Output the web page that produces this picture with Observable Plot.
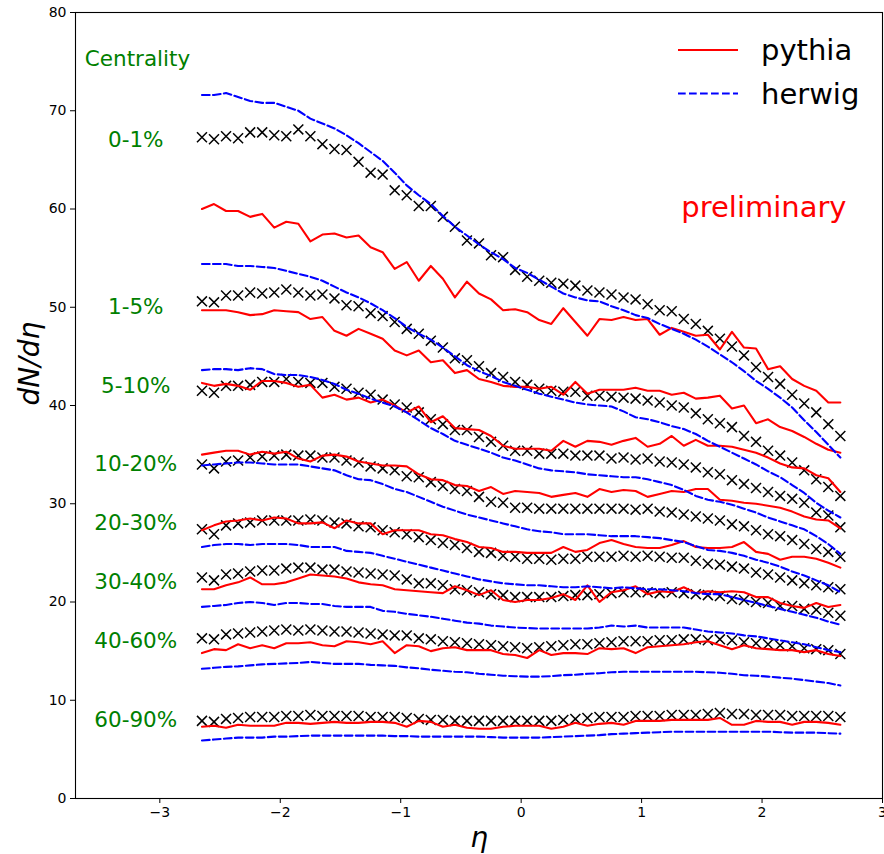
<!DOCTYPE html>
<html>
<head>
<meta charset="utf-8">
<script src="https://cdn.jsdelivr.net/npm/d3@7"></script>
<script src="https://cdn.jsdelivr.net/npm/@observablehq/plot@0.6"></script>
<style>
  body { margin: 0; background: white; }
  #chart { width: 884px; height: 854px; }
</style>
</head>
<body>
<div id="chart"></div>
<script>
const eta = [-2.65,-2.55,-2.45,-2.35,-2.25,-2.15,-2.05,-1.95,-1.85,-1.75,-1.65,-1.55,-1.45,-1.35,-1.25,-1.15,-1.05,-0.95,-0.85,-0.75,-0.65,-0.55,-0.45,-0.35,-0.25,-0.15,-0.05,0.05,0.15,0.25,0.35,0.45,0.55,0.65,0.75,0.85,0.95,1.05,1.15,1.25,1.35,1.45,1.55,1.65,1.75,1.85,1.95,2.05,2.15,2.25,2.35,2.45,2.55,2.65];

const centralities = ["0-1%","1-5%","5-10%","10-20%","20-30%","30-40%","40-60%","60-90%"];
const labelLevels = [67, 50, 42, 34, 28, 22, 16, 8];
const xTicks = [-3,-2,-1,0,1,2,3];
const yTicks = [0,10,20,30,40,50,60,70,80];
const legendNames = ["pythia","herwig"];

// measured (x markers)
const data01 = [67.3,67.1,67.4,67.2,67.8,67.8,67.5,67.4,68.1,67.4,66.6,66.1,66.0,64.8,63.7,63.5,61.9,61.4,60.3,60.3,59.2,58.2,56.8,56.5,55.3,55.1,53.8,53.1,52.7,52.5,52.4,52.2,51.7,51.5,51.3,51.0,50.8,50.3,49.7,49.6,48.8,48.3,47.6,46.8,46.0,45.1,43.9,42.9,42.2,41.1,40.2,39.3,38.1,36.9];
const data15 = [50.6,50.5,51.2,51.2,51.5,51.4,51.5,51.8,51.5,51.2,51.3,50.9,50.2,50.1,49.4,49.1,48.5,47.8,47.3,46.6,45.9,44.8,44.6,44.0,43.3,42.9,42.4,42.1,41.7,41.5,41.4,41.4,41.0,41.0,40.9,40.8,40.7,40.5,40.3,40.0,39.8,39.2,38.6,38.2,37.8,36.9,36.3,35.4,34.9,34.2,33.4,32.5,31.7,30.8];
const data510 = [41.5,41.3,42.0,42.0,42.1,42.4,42.4,42.7,42.4,42.3,42.3,41.9,41.7,41.3,41.1,40.6,40.1,39.8,39.3,38.6,38.1,37.5,37.5,36.8,36.3,35.9,35.4,35.4,35.1,35.1,35.1,34.9,34.9,34.9,34.6,34.7,34.5,34.6,34.3,34.2,34.0,33.7,33.2,33.0,32.4,32.0,31.6,31.2,30.8,30.5,30.1,29.1,28.8,27.6];
const data1020 = [34.0,33.6,34.3,34.4,34.7,34.8,34.9,35.0,34.9,34.9,34.7,34.7,34.4,34.2,33.8,33.6,33.4,32.8,32.7,32.2,31.8,31.5,31.3,30.7,30.2,30.1,29.6,29.6,29.5,29.5,29.5,29.5,29.5,29.5,29.5,29.5,29.4,29.5,29.2,29.1,28.9,28.7,28.5,28.3,27.9,27.7,27.3,26.9,26.7,26.3,25.9,25.4,25.1,24.6];
const data2030 = [27.4,26.9,27.8,28.0,28.1,28.3,28.3,28.3,28.3,28.4,28.3,28.1,28.0,27.7,27.6,27.3,27.1,26.9,26.6,26.3,26.0,25.8,25.5,25.1,25.0,24.7,24.6,24.4,24.4,24.3,24.4,24.4,24.6,24.6,24.6,24.7,24.6,24.7,24.6,24.5,24.5,24.2,23.9,23.8,23.6,23.4,23.0,22.8,22.5,22.2,21.9,21.7,21.5,21.3];
const data3040 = [22.5,22.2,22.8,22.9,23.1,23.2,23.2,23.4,23.5,23.5,23.3,23.3,23.1,23.0,22.9,22.8,22.7,22.3,21.9,21.9,21.7,21.3,21.2,21.0,20.8,20.7,20.5,20.5,20.5,20.5,20.6,20.7,20.7,20.8,20.9,21.0,21.0,21.0,20.9,21.0,20.9,20.8,20.7,20.6,20.3,20.2,20.0,19.9,19.6,19.6,19.3,19.2,18.9,18.6];
const data4060 = [16.3,16.2,16.7,16.8,16.9,17.0,17.1,17.2,17.1,17.2,17.1,17.0,17.0,16.9,16.8,16.7,16.6,16.6,16.3,16.2,16.0,15.9,15.8,15.7,15.6,15.5,15.4,15.3,15.4,15.5,15.6,15.7,15.7,15.8,15.9,16.0,16.0,16.0,16.1,16.1,16.2,16.2,16.1,16.2,16.1,15.9,15.8,15.7,15.6,15.5,15.3,15.2,15.1,14.7];
const data6090 = [7.9,7.8,8.1,8.2,8.3,8.3,8.3,8.4,8.4,8.5,8.4,8.4,8.4,8.4,8.3,8.3,8.3,8.2,8.1,8.0,8.0,7.9,7.9,7.9,7.9,7.9,7.9,7.9,7.9,7.9,8.0,8.1,8.2,8.3,8.3,8.3,8.4,8.4,8.4,8.5,8.5,8.5,8.6,8.7,8.6,8.6,8.5,8.5,8.5,8.4,8.4,8.4,8.4,8.3];

// pythia (red solid)
const pythia01 = [60.0,60.5,59.8,59.8,59.2,59.5,58.1,58.7,58.5,56.7,57.4,57.5,57.1,57.3,56.1,55.6,53.9,54.6,52.7,54.2,52.9,51.0,52.6,51.4,50.8,49.7,49.8,49.5,48.7,48.3,49.9,48.5,47.1,48.8,48.7,49.0,48.7,48.8,47.2,47.9,47.5,47.1,47.2,45.7,47.5,45.9,45.8,43.7,44.0,42.7,42.0,41.5,40.3,40.3];
const pythia15 = [49.7,49.7,49.7,49.5,49.2,49.3,49.7,49.6,49.5,48.8,49.0,47.6,47.1,47.8,47.3,46.8,45.6,45.1,45.6,44.4,44.6,43.3,43.6,42.7,42.4,42.0,41.9,41.9,41.7,41.9,41.1,42.4,41.2,41.6,41.6,41.6,41.8,41.5,41.5,41.1,41.3,40.7,40.8,41.0,39.7,40.0,38.2,38.6,37.8,37.4,36.8,36.1,35.5,35.2];
const pythia510 = [42.3,42.0,42.2,42.0,41.6,42.5,42.5,42.3,41.9,42.1,40.8,41.1,40.6,40.8,40.3,40.6,40.0,39.3,39.9,38.3,38.9,37.7,37.6,37.5,36.9,35.9,35.6,35.6,35.6,35.4,36.4,35.8,36.4,36.3,36.0,36.4,36.7,35.8,36.1,36.9,35.9,36.5,35.9,35.9,35.8,35.5,35.2,34.7,34.1,33.7,33.6,32.9,32.6,31.2];
const pythia1020 = [35.0,35.2,35.4,35.4,35.0,35.3,35.1,35.3,34.6,34.3,34.9,35.0,34.8,34.3,34.1,33.9,33.9,33.8,33.0,32.5,32.4,31.9,31.8,31.3,31.7,31.0,31.3,31.2,31.1,30.7,30.9,31.1,30.7,31.5,31.2,31.4,31.3,30.7,31.0,31.3,31.2,31.5,31.5,30.4,30.3,30.1,30.0,29.8,29.6,29.2,28.7,28.4,28.3,27.5];
const pythia2030 = [27.3,27.8,28.2,28.3,28.5,28.3,28.6,28.5,28.0,28.0,28.1,27.5,28.3,28.0,28.0,26.9,27.3,27.3,27.3,26.9,26.8,26.4,26.1,25.6,25.5,25.1,25.1,25.0,25.0,25.0,25.6,25.1,25.3,26.0,26.3,25.9,25.6,25.5,25.5,25.8,26.2,25.6,25.5,25.5,25.6,26.1,25.1,24.9,24.3,24.6,24.6,24.4,24.0,23.5];
const pythia3040 = [21.3,21.3,21.7,22.0,22.5,21.8,21.8,22.0,22.4,22.8,22.7,22.6,22.4,22.0,21.8,21.7,21.3,21.2,21.1,21.0,20.9,21.6,21.2,20.7,21.2,20.2,20.0,20.2,20.2,20.4,20.8,20.2,21.7,20.0,21.0,21.2,21.6,20.8,21.1,21.0,21.5,20.9,21.1,21.0,21.1,21.0,20.5,20.5,19.9,19.6,19.4,19.9,19.5,19.7];
const pythia4060 = [14.8,15.2,15.1,15.7,15.3,15.6,15.3,15.8,15.8,15.9,15.6,15.5,16.0,15.9,15.7,16.0,14.8,15.6,15.5,15.0,15.3,15.4,15.1,15.1,15.1,14.7,14.6,14.3,15.1,14.6,14.8,14.8,14.7,15.3,15.2,15.3,14.8,15.4,15.5,15.6,15.7,15.9,16.0,15.6,15.2,15.6,15.3,15.2,15.1,15.1,14.9,15.1,14.7,14.5];
const pythia6090 = [7.3,7.4,7.2,7.5,7.4,7.4,7.4,7.7,7.7,7.6,7.7,7.8,7.7,7.7,7.8,7.8,7.7,7.3,7.9,7.8,7.3,7.5,7.2,7.1,7.1,7.3,7.4,7.4,7.4,7.1,7.3,7.7,7.4,7.6,7.7,7.5,7.9,7.9,7.9,8.0,8.0,8.0,8.0,8.2,7.5,7.5,7.9,7.8,7.8,7.5,7.8,7.8,7.7,7.5];

// herwig (blue dashed)
const herwig01 = [71.6,71.6,71.8,71.4,71.0,70.8,70.8,70.4,70.0,69.2,68.7,68.2,67.5,66.7,65.8,64.9,63.7,62.4,61.4,60.5,59.3,58.2,57.3,56.4,55.6,54.9,54.0,53.5,52.8,52.1,51.4,51.0,50.7,50.6,50.1,49.7,49.2,48.9,48.3,47.8,47.3,46.7,46.0,45.2,44.4,43.5,42.5,41.7,40.8,39.8,38.5,37.3,36.0,34.7];
const herwig15 = [54.4,54.4,54.4,54.2,54.2,54.1,54.0,53.7,53.4,53.1,52.7,52.1,51.5,51.0,50.4,49.7,48.9,48.0,47.3,46.7,45.9,45.0,44.1,43.5,43.0,42.4,42.0,41.6,41.2,40.9,40.6,40.3,40.1,40.0,39.9,39.4,38.8,38.6,38.3,37.9,37.6,37.1,36.4,35.8,35.2,34.6,34.0,33.3,32.7,31.9,31.1,30.1,29.3,28.6];
const herwig510 = [43.6,43.7,43.7,43.6,43.8,43.7,43.2,43.1,43.1,42.9,42.6,42.2,41.6,41.2,40.7,40.3,39.9,39.3,38.5,37.7,37.1,36.4,36.0,35.6,35.2,34.7,34.4,34.0,33.6,33.4,33.3,33.2,33.0,32.9,32.8,32.7,32.7,32.5,32.2,31.9,31.4,30.8,30.4,30.2,29.9,29.5,29.1,28.6,28.2,27.8,27.4,26.7,25.9,24.9];
const herwig1020 = [33.9,34.0,34.1,34.2,34.2,34.1,34.0,34.0,34.0,33.8,33.6,33.4,32.9,32.5,32.4,32.0,31.5,31.2,30.7,30.2,29.7,29.3,28.9,28.6,28.3,28.0,27.7,27.4,27.2,27.1,26.9,26.9,26.9,26.8,26.7,26.7,26.7,26.6,26.5,26.3,26.1,25.7,25.3,25.2,25.0,24.7,24.3,24.0,23.6,23.1,22.7,22.2,21.7,21.0];
const herwig2030 = [25.6,25.8,25.9,25.9,25.8,25.9,25.9,25.9,25.8,25.6,25.6,25.6,25.2,25.1,25.0,24.7,24.4,24.1,23.8,23.5,23.2,22.9,22.6,22.3,22.1,21.9,21.8,21.7,21.7,21.6,21.5,21.5,21.6,21.5,21.4,21.5,21.4,21.3,21.3,21.2,21.1,20.9,20.8,20.8,20.5,20.2,19.9,19.6,19.3,19.0,18.7,18.4,18.0,17.7];
const herwig3040 = [19.5,19.6,19.7,19.9,20.0,19.9,19.7,19.9,19.9,19.8,19.8,19.6,19.5,19.5,19.5,19.1,19.0,18.8,18.65,18.5,18.3,18.1,17.9,17.8,17.6,17.5,17.4,17.35,17.3,17.3,17.3,17.3,17.3,17.4,17.6,17.5,17.6,17.4,17.4,17.4,17.4,17.2,17.0,16.9,16.8,16.6,16.5,16.3,16.1,15.9,15.7,15.4,15.1,14.9];
const herwig4060 = [13.2,13.3,13.4,13.45,13.55,13.65,13.7,13.75,13.8,13.9,13.8,13.7,13.7,13.7,13.6,13.55,13.5,13.35,13.25,13.1,13.0,12.9,12.85,12.7,12.6,12.5,12.45,12.4,12.4,12.45,12.55,12.6,12.7,12.75,12.85,12.9,12.9,12.9,12.9,12.9,12.9,12.9,12.85,12.8,12.7,12.55,12.5,12.4,12.3,12.2,12.05,11.9,11.75,11.5];
const herwig6090 = [5.9,6.0,6.1,6.2,6.2,6.2,6.3,6.3,6.35,6.4,6.4,6.4,6.4,6.4,6.4,6.4,6.35,6.35,6.3,6.3,6.3,6.3,6.3,6.3,6.25,6.2,6.2,6.2,6.2,6.25,6.3,6.35,6.4,6.45,6.55,6.6,6.65,6.7,6.75,6.8,6.8,6.8,6.8,6.8,6.8,6.8,6.8,6.8,6.75,6.7,6.7,6.7,6.65,6.6];

const dataSets = [data01, data15, data510, data1020, data2030, data3040, data4060, data6090];
const pythiaSets = [pythia01, pythia15, pythia510, pythia1020, pythia2030, pythia3040, pythia4060, pythia6090];
const herwigSets = [herwig01, herwig15, herwig510, herwig1020, herwig2030, herwig3040, herwig4060, herwig6090];

function toLong(sets) {
  return sets.flatMap((arr, k) => arr.map((v, i) => ({eta: eta[i], v, c: centralities[k]})));
}
const dataLong = toLong(dataSets);
const pythiaLong = toLong(pythiaSets);
const herwigLong = toLong(herwigSets);
const labelRows = centralities.map((c, k) => ({c, y: labelLevels[k]}));

const RED = "#ff0000", BLUE = "#0000ff", GREEN = "#008000";
const FONT = "DejaVu Sans, sans-serif";
const fmt = d3.format("d");

const chart = Plot.plot({
  width: 884,
  height: 854,
  marginLeft: 75,
  marginRight: 2,
  marginTop: 12,
  marginBottom: 56,
  style: {fontFamily: FONT, fontSize: "14px", color: "black", background: "white", overflow: "visible"},
  x: {domain: [-3.7, 3], ticks: xTicks, tickFormat: fmt, tickSize: 5, tickPadding: 4, label: null},
  y: {domain: [0, 80], ticks: yTicks, tickFormat: fmt, tickSize: 5, tickPadding: 4, label: null},
  marks: [
    Plot.dot(dataLong, {x: "eta", y: "v", symbol: "times", r: 4.6, stroke: "black", strokeWidth: 1.5}),
    Plot.line(pythiaLong, {x: "eta", y: "v", z: "c", stroke: RED, strokeWidth: 2.1}),
    Plot.line(herwigLong, {x: "eta", y: "v", z: "c", stroke: BLUE, strokeWidth: 2.1, strokeDasharray: "7.7,3.3"}),
    Plot.frame({stroke: "black", strokeWidth: 1.1}),
    Plot.text(labelRows, {x: () => -3.2, y: "y", text: "c", fill: GREEN, fontSize: 21.5, textAnchor: "middle"}),
    Plot.text(["Centrality"], {frameAnchor: "top-left", dx: 62, dy: 38, fill: GREEN, fontSize: 21.5, textAnchor: "middle"}),
    Plot.text(["preliminary"], {frameAnchor: "top-right", dx: -36, dy: 184, fill: RED, fontSize: 29, textAnchor: "end"}),
    Plot.text(["dN/dη"], {frameAnchor: "left", dx: -45, rotate: -90, fontSize: 28, fontStyle: "italic", fill: "black"}),
    Plot.text(["η"], {frameAnchor: "bottom", dy: 48, fontSize: 28, fontStyle: "italic", fill: "black"})
  ]
});

// legend overlay (top right, inside the frame)
const svg = d3.select(chart);
const lg = svg.append("g").attr("font-family", FONT).attr("font-size", 29).attr("text-anchor", "start");
const legendStyles = [{stroke: RED, dash: null}, {stroke: BLUE, dash: "7.7,3.3"}];
legendNames.forEach((name, i) => {
  const y = 50 + i * 43.5;
  lg.append("line").attr("x1", 678).attr("x2", 738).attr("y1", y).attr("y2", y)
    .attr("stroke", legendStyles[i].stroke).attr("stroke-width", 2.1)
    .attr("stroke-dasharray", legendStyles[i].dash);
  lg.append("text").attr("x", 761).attr("y", y + 10).attr("fill", "black").attr("text-anchor", "start").text(name);
});

document.getElementById("chart").appendChild(chart);
</script>
</body>
</html>
